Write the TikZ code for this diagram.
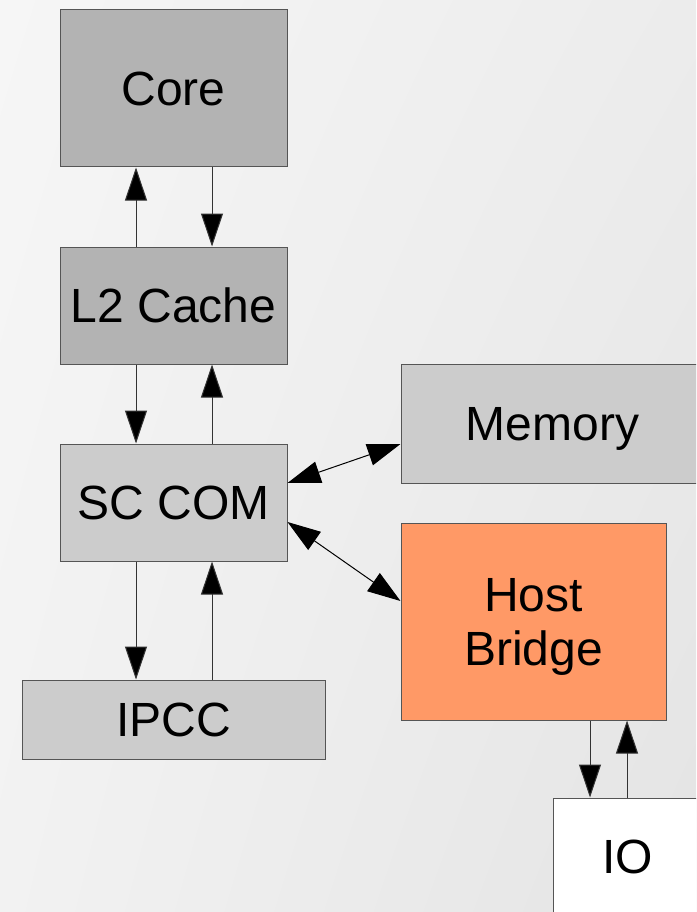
\documentclass[tikz,border=0pt]{standalone}
\usepackage{fontspec}
\setmainfont{Liberation Sans}
\usetikzlibrary{arrows.meta,calc,shadings}
\definecolor{darkbox}{HTML}{B3B3B3}
\definecolor{lightbox}{HTML}{CCCCCC}
\definecolor{hostfill}{HTML}{FF9966}
\definecolor{boxline}{HTML}{555555}
\definecolor{arrline}{HTML}{333333}
\definecolor{bgul}{HTML}{F6F6F6}
\definecolor{bgur}{HTML}{ECECEC}
\definecolor{bgll}{HTML}{F2F2F2}
\definecolor{bglr}{HTML}{E4E4E4}
\begin{document}
\begin{tikzpicture}[x=1pt,y=-1pt,
  box/.style={draw=boxline,line width=1pt,rectangle,inner sep=0pt,align=center,
    font=\fontsize{48}{54}\selectfont,text=black,text depth=0pt},
  arr/.style={draw=arrline,line width=1pt,-{Triangle[length=33pt,width=22pt,fill=black]}},
  darr/.style={draw=black,line width=1pt,{Triangle[length=33pt,width=22pt,fill=black]}-{Triangle[length=33pt,width=22pt,fill=black]}}]
\useasboundingbox (0,0) rectangle (696,912);
\clip (0,0) rectangle (696,912);
\shade[upper left=bgul,upper right=bgur,lower left=bgll,lower right=bglr]
  (0,0) rectangle (696,912);
% nodes
\node[box,fill=darkbox,minimum width=227pt,minimum height=157pt] (core) at (173.5,88.5) {Core};
\node[box,fill=darkbox,minimum width=227pt,minimum height=117pt] (l2) at (173.5,305.5) {L2 Cache};
\node[box,fill=lightbox,minimum width=227pt,minimum height=117pt] (sc) at (173.5,502.5) {SC COM};
\node[box,fill=lightbox,minimum width=303pt,minimum height=79pt] (ipcc) at (173.5,719.5) {IPCC};
\node[box,fill=lightbox,minimum width=303pt,minimum height=119pt] (mem) at (552.5,423.5) {Memory};
\node[box,fill=hostfill,minimum width=265pt,minimum height=197pt] (host) at (533.5,621.5) {Host\\Bridge};
\node[box,fill=white,minimum width=149pt,minimum height=118pt] (io) at (627.5,857) {IO};
% column coordinates
\coordinate (cl) at (136,0);
\coordinate (cr) at (212,0);
\coordinate (hl) at (590,0);
\coordinate (hr) at (627,0);
% vertical connectors
\draw[arr] (l2.north -| cl) -- (core.south -| cl);
\draw[arr] (core.south -| cr) -- (l2.north -| cr);
\draw[arr] (l2.south -| cl) -- (sc.north -| cl);
\draw[arr] (sc.north -| cr) -- (l2.south -| cr);
\draw[arr] (sc.south -| cl) -- (ipcc.north -| cl);
\draw[arr] (ipcc.north -| cr) -- (sc.south -| cr);
\draw[arr] (host.south -| hl) -- (io.north -| hl);
\draw[arr] (io.north -| hr) -- (host.south -| hr);
% diagonal connectors
\draw[darr] ($(sc.east)+(0,-19.5)$) -- ($(mem.west)+(0,20.5)$);
\draw[darr] ($(sc.east)+(0,19.5)$) -- ($(host.west)+(0,-20.5)$);
\end{tikzpicture}
\end{document}
